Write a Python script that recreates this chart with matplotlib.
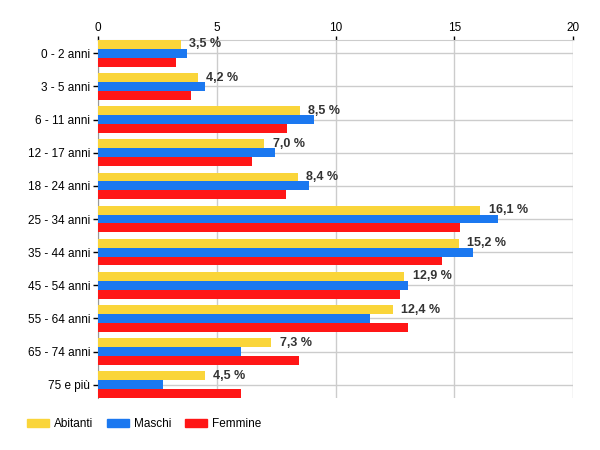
import numpy as np
import matplotlib
matplotlib.use("Agg")
import matplotlib.pyplot as plt
from matplotlib.patches import Patch

plt.rcParams['font.family'] = ['Liberation Sans', 'DejaVu Sans']

categorie = ["0 - 2 anni", "3 - 5 anni", "6 - 11 anni", "12 - 17 anni", "18 - 24 anni",
             "25 - 34 anni", "35 - 44 anni", "45 - 54 anni", "55 - 64 anni",
             "65 - 74 anni", "75 e più"]
abitanti = [3.5, 4.2, 8.5, 7.0, 8.4, 16.1, 15.2, 12.9, 12.4, 7.3, 4.5]
maschi = [3.75, 4.5, 9.1, 7.45, 8.9, 16.85, 15.8, 13.05, 11.45, 6.0, 2.75]
femmine = [3.3, 3.9, 7.95, 6.5, 7.9, 15.25, 14.5, 12.7, 13.05, 8.45, 6.0]
etichette = ["3,5 %", "4,2 %", "8,5 %", "7,0 %", "8,4 %", "16,1 %", "15,2 %",
             "12,9 %", "12,4 %", "7,3 %", "4,5 %"]

giallo = '#FAD53A'
blu = '#1B78F0'
rosso = '#FF1616'

fig = plt.figure(figsize=(6, 4.5), dpi=100)
ax = fig.add_axes([98/600, 1 - 398/450, 475/600, 358/450])

y = np.arange(len(categorie))
h = 0.8 / 3
ax.barh(y - h, abitanti, height=h, color=giallo, zorder=3)
ax.barh(y, maschi, height=h, color=blu, zorder=3)
ax.barh(y + h, femmine, height=h, color=rosso, zorder=3)

for yi, v, t in zip(y, abitanti, etichette):
    ax.annotate(t, (v, yi - h), xytext=(6, 0), textcoords='offset points',
                va='center', ha='left', fontsize=9, fontweight='bold', color='#333333')

ax.set_xlim(0, 20)
ax.set_ylim(len(categorie) - 0.6, -0.4)
ax.set_xticks([0, 5, 10, 15, 20])
ax.set_yticks(y)
ax.set_yticklabels(categorie)
ax.xaxis.tick_top()
ax.tick_params(axis='x', length=3, width=1, color='black', labelsize=8.5, pad=1.5)
ax.tick_params(axis='y', length=3.5, width=1, color='black', labelsize=8.5, pad=2)

ax.grid(True, color='#cccccc', linewidth=1, zorder=0)
ax.set_axisbelow(True)
for s in ['right', 'bottom']:
    ax.spines[s].set_visible(False)
ax.spines['top'].set_color('#cccccc')
ax.spines['left'].set_color('#999999')

handles = [Patch(color=giallo, label='Abitanti'),
           Patch(color=blu, label='Maschi'),
           Patch(color=rosso, label='Femmine')]
fig.legend(handles=handles, loc='center left', bbox_to_anchor=(0.045, 1 - 424/450), ncol=3,
           frameon=False, fontsize=8.5, handlelength=1.85, handleheight=0.75,
           handletextpad=0.45, columnspacing=1.15, borderaxespad=0, borderpad=0)

fig.savefig('out.png', dpi=100)
